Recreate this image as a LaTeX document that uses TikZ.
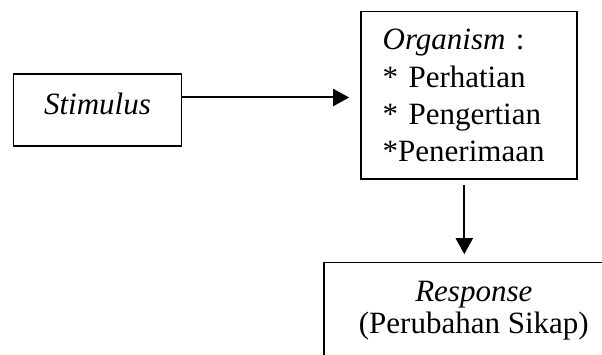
\documentclass[tikz,border=0pt]{standalone}
\usepackage{fontspec}
\setmainfont{Liberation Serif}
\usepackage{tikz}
\usetikzlibrary{arrows.meta, positioning}

\begin{document}
\begin{tikzpicture}[
    x=1pt, y=-1pt,
    box/.style={rectangle, draw=black, line width=1.6pt, font=\fontsize{31pt}{37.2pt}\selectfont},
    arrow/.style={-{Triangle[length=16pt, width=17pt]}, line width=2pt}
]
    \clip (0, 0) rectangle (602, 355);

    % Stimulus
    \node[box, minimum width=168pt, minimum height=72pt, text height=21pt, text depth=11pt] (stim) at (97.5, 110) {\textit{Stimulus}};

    % Organism
    \node[box, align=left, text width=172pt, inner xsep=22pt, minimum height=167.6pt] (org) at (468.7, 95.5)
        {\textit{Organism} :\\{*} Perhatian\\{*} Pengertian\\{*}Penerimaan};

    % Response
    \node[box, align=center, minimum width=300pt, minimum height=96.2pt, font=\fontsize{31pt}{32pt}\selectfont] (resp) at (473.8, 310.8)
        {\textit{Response}\\(Perubahan Sikap)};

    \draw[arrow, shorten >=10.7pt] ([yshift=-2pt]stim.east |- org.west) -- ([yshift=-2pt]org.west);
    \draw[arrow, shorten <=4.7pt, shorten >=7.7pt] ([xshift=-4.4pt]org.south) -- ([xshift=-4.4pt]org.south |- resp.north);
\end{tikzpicture}
\end{document}
